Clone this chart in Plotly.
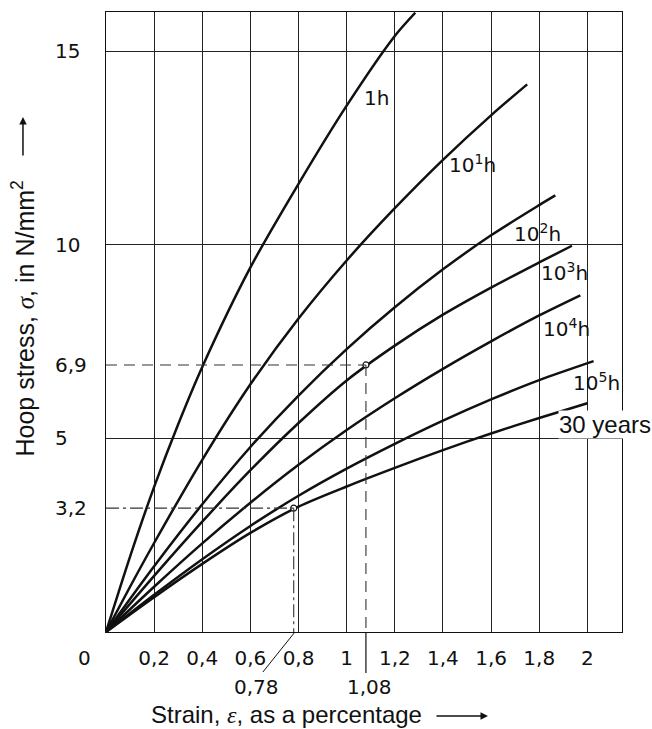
import plotly.graph_objects as go

# ---------------- data ----------------
x_tick_vals = [0.2, 0.4, 0.6, 0.8, 1.0, 1.2, 1.4, 1.6, 1.8, 2.0]
x_tick_text = ["0,2", "0,4", "0,6", "0,8", "1", "1,2", "1,4", "1,6", "1,8", "2"]
y_tick_vals = [3.2, 5, 6.9, 10, 15]
y_tick_text = ["3,2", "5", "6,9", "10", "15"]
y_grid_vals = [5, 10, 15]
origin_label = "0"

x_1h = [0, 0.1, 0.2, 0.3, 0.4, 0.6, 0.8, 1.0, 1.2, 1.285]
y_1h = [0, 1.95, 3.75, 5.37, 6.85, 9.42, 11.58, 13.6, 15.4, 16.0]

x_10h = [0, 0.1, 0.2, 0.4, 0.6, 0.8, 1.0, 1.2, 1.4, 1.6, 1.75]
y_10h = [0, 1.17, 2.3, 4.45, 6.4, 8.1, 9.6, 10.95, 12.2, 13.35, 14.15]

x_100h = [0, 0.2, 0.4, 0.6, 0.8, 1.0, 1.2, 1.4, 1.6, 1.8, 1.867]
y_100h = [0, 1.7, 3.3, 4.78, 6.11, 7.31, 8.39, 9.37, 10.25, 11.03, 11.28]

x_1000h = [0, 0.2, 0.4, 0.6, 0.8, 1.0, 1.2, 1.4, 1.6, 1.8, 1.936]
y_1000h = [0, 1.45, 2.85, 4.18, 5.4, 6.5, 7.4, 8.2, 8.9, 9.55, 9.98]

x_1e4h = [0, 0.2, 0.4, 0.6, 0.8, 1.0, 1.2, 1.4, 1.6, 1.8, 1.971]
y_1e4h = [0, 1.17, 2.29, 3.34, 4.32, 5.22, 6.04, 6.8, 7.51, 8.18, 8.7]

x_1e5h = [0, 0.2, 0.4, 0.6, 0.8, 1.0, 1.2, 1.4, 1.6, 1.8, 2.026]
y_1e5h = [0, 0.96, 1.88, 2.74, 3.52, 4.22, 4.86, 5.46, 6.01, 6.51, 7.0]

x_30y = [0, 0.2, 0.4, 0.6, 0.8, 1.0, 1.2, 1.4, 1.6, 1.8, 2.0]
y_30y = [0, 0.9, 1.76, 2.56, 3.24, 3.76, 4.24, 4.7, 5.13, 5.53, 5.91]

curve_names = ["1h", "10<sup>1</sup>h", "10<sup>2</sup>h", "10<sup>3</sup>h",
               "10<sup>4</sup>h", "10<sup>5</sup>h", "30 years"]

# worked examples (strain, stress) and their labels
ex_strain = [1.08, 0.78]
ex_stress = [6.9, 3.2]
ex_strain_text = ["1,08", "0,78"]

# ---------------- figure ----------------
INK = "#111111"
DIN = "DejaVu Sans"
SANS = "Liberation Sans, Arial, sans-serif"

fig = go.Figure()
series = [(x_1h, y_1h), (x_10h, y_10h), (x_100h, y_100h), (x_1000h, y_1000h),
          (x_1e4h, y_1e4h), (x_1e5h, y_1e5h), (x_30y, y_30y)]
for (xs, ys), name in zip(series, curve_names):
    fig.add_trace(go.Scatter(x=xs, y=ys, mode="lines", name=name,
                             line=dict(color=INK, width=2.5, shape="spline", smoothing=0.8),
                             hoverinfo="skip", showlegend=False))

# reference lines
shapes = []
dash_a = "11px,7px"
dash_b = "13px,4px,3px,4px"
shapes.append(dict(type="line", xref="x", yref="y", x0=0, x1=ex_strain[0], y0=ex_stress[0], y1=ex_stress[0],
                   line=dict(color="#333", width=1.1, dash=dash_a)))
shapes.append(dict(type="line", xref="x", yref="y", x0=ex_strain[0], x1=ex_strain[0], y0=ex_stress[0], y1=0,
                   line=dict(color="#333", width=1.1, dash=dash_a)))
shapes.append(dict(type="line", xref="x", yref="paper", x0=ex_strain[0], x1=ex_strain[0], y0=0, y1=-0.066,
                   line=dict(color=INK, width=1.2)))
shapes.append(dict(type="line", xref="x", yref="y", x0=0, x1=ex_strain[1], y0=ex_stress[1], y1=ex_stress[1],
                   line=dict(color="#333", width=1.1, dash=dash_b)))
shapes.append(dict(type="line", xref="x", yref="y", x0=ex_strain[1], x1=ex_strain[1], y0=ex_stress[1], y1=0,
                   line=dict(color="#333", width=1.1, dash=dash_b)))
shapes.append(dict(type="line", xref="x", yref="paper", x0=ex_strain[1] + 0.005, x1=0.652, y0=0, y1=-0.0645,
                   line=dict(color=INK, width=1.0)))

fig.add_trace(go.Scatter(x=ex_strain, y=ex_stress, mode="markers",
                         marker=dict(symbol="circle", size=6, color="white",
                                     line=dict(color=INK, width=1.2)),
                         hoverinfo="skip", showlegend=False))

ann = []
# curve labels
lab_pos = [(1.068, 13.8), (1.421, 12.09), (1.691, 10.3), (1.803, 9.3),
           (1.812, 7.85), (1.936, 6.47), (1.878, 5.37)]
for name, (lx, ly) in zip(curve_names, lab_pos):
    is_years = name == "30 years"
    ann.append(dict(x=lx, y=ly, xref="x", yref="y", text=name, showarrow=False,
                    xanchor="left", yanchor="middle",
                    font=dict(family=SANS if is_years else DIN, size=24 if is_years else 20, color=INK),
                    bgcolor="white" if is_years else None, borderpad=0))

# origin label
ann.append(dict(x=-0.0407, y=-0.042, xref="paper", yref="paper", text=origin_label, showarrow=False,
                xanchor="center", yanchor="middle", font=dict(family=DIN, size=20, color=INK)))
# worked example strain labels
for t, px in zip(ex_strain_text, [0.5097, 0.2907]):
    ann.append(dict(x=px, y=-0.089, xref="paper", yref="paper", text=t, showarrow=False,
                    xanchor="center", yanchor="middle", font=dict(family=DIN, size=20, color=INK)))

# axis titles
ann.append(dict(x=0.3498, y=-0.1323, xref="paper", yref="paper",
                text='Strain, <span style="font-family:Liberation Serif"><i>ε</i></span>, as a percentage',
                showarrow=False, xanchor="center", yanchor="middle",
                font=dict(family=SANS, size=24, color=INK)))
ann.append(dict(x=-0.1609, y=0.5056, xref="paper", yref="paper", textangle=-90,
                text='Hoop stress, <span style="font-family:Liberation Serif"><i>σ</i></span>, in N/mm<sup>2</sup>',
                showarrow=False, xanchor="center", yanchor="middle",
                font=dict(family=SANS, size=25, color=INK)))
# arrows
ann.append(dict(x=0.7403, y=-0.1355, xref="paper", yref="paper", text="", showarrow=True,
                ax=-53, ay=0, arrowhead=2, arrowsize=1, arrowwidth=1.5, arrowcolor=INK))
ann.append(dict(x=-0.1609, y=0.8306, xref="paper", yref="paper", text="", showarrow=True,
                ax=0, ay=40, arrowhead=2, arrowsize=1, arrowwidth=1.5, arrowcolor=INK))

y_text_padded = []
for t in y_tick_text:
    pad = {1: 3, 2: 1}.get(len(t), 0)
    y_text_padded.append(t + "\u00a0" * pad)

fig.update_layout(
    width=652, height=729,
    margin=dict(l=106, r=30, t=12, b=97),
    paper_bgcolor="white", plot_bgcolor="white",
    shapes=shapes, annotations=ann, showlegend=False,
    xaxis=dict(range=[0, 2.144], showline=True, mirror=True, linecolor=INK, linewidth=1.3,
               showgrid=True, gridcolor="#222", gridwidth=1.2, zeroline=False,
               tickvals=x_tick_vals, ticktext=x_tick_text, ticks="",
               ticklabelstandoff=8,
               tickfont=dict(family=DIN, size=20, color=INK)),
    yaxis=dict(range=[0, 16.02], showline=True, mirror=True, linecolor=INK, linewidth=1.3,
               showgrid=False, zeroline=False,
               tickvals=y_tick_vals, ticktext=y_text_padded, ticks="",
               ticklabelstandoff=14,
               minor=dict(tickvals=y_grid_vals, showgrid=True, gridcolor="#222", gridwidth=1.2),
               tickfont=dict(family=DIN, size=20, color=INK)),
)

fig.write_html("out.html", config={"displayModeBar": False},
               post_script="document.body.style.margin='0';document.body.style.overflow='hidden';")
